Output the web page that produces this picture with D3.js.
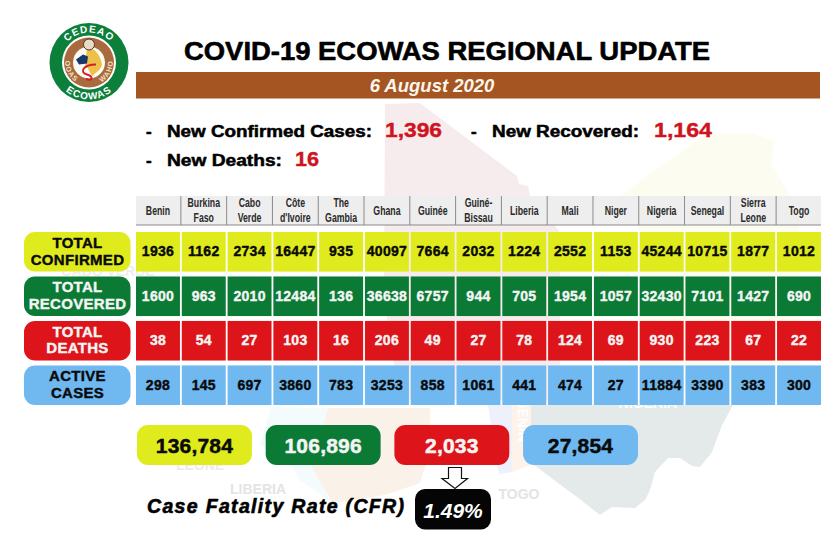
<!DOCTYPE html>
<html>
<head>
<meta charset="utf-8">
<script src="https://cdn.jsdelivr.net/npm/d3@7"></script>
<style>
	html, body { margin: 0; padding: 0; background: #fff; }
	svg { display: block; }
	text { font-family: "Liberation Sans", Arial, sans-serif; }
	.heavy { font-weight: bold; paint-order: stroke; stroke-linejoin: round; }
</style>
</head>
<body>
<svg id="chart" width="840" height="558"></svg>
<script>
( function() {

	"use strict";

	//table data
	var countries = [ "Benin", "Burkina\nFaso", "Cabo\nVerde", "Côte\nd'Ivoire", "The\nGambia", "Ghana", "Guinée", "Guiné-\nBissau", "Liberia", "Mali", "Niger", "Nigeria", "Senegal", "Sierra\nLeone", "Togo" ],
		confirmed = [ 1936, 1162, 2734, 16447, 935, 40097, 7664, 2032, 1224, 2552, 1153, 45244, 10715, 1877, 1012 ],
		recovered = [ 1600, 963, 2010, 12484, 136, 36638, 6757, 944, 705, 1954, 1057, 32430, 7101, 1427, 690 ],
		deaths = [ 38, 54, 27, 103, 16, 206, 49, 27, 78, 124, 69, 930, 223, 67, 22 ],
		active = [ 298, 145, 697, 3860, 783, 3253, 858, 1061, 441, 474, 27, 11884, 3390, 383, 300 ],
		rowLabels = [ "TOTAL\nCONFIRMED", "TOTAL\nRECOVERED", "TOTAL\nDEATHS", "ACTIVE\nCASES" ],
		totals = [ "136,784", "106,896", "2,033", "27,854" ],
		rowValues = [ confirmed, recovered, deaths, active ];

	var rowFills = [ "#dfeb1c", "#0a7a35", "#dd1419", "#6fb8f0" ],
		rowInk = [ "#0a0a0a", "#f4f4f4", "#f4f4f4", "#0a0a0a" ],
		red = "#cf1320";

	var svg = d3.select( "#chart" );

	var x = d3.scaleBand().domain( d3.range( countries.length ) ).range( [ 136, 821 ] ).paddingInner( 0.04 ),
		y = d3.scaleBand().domain( d3.range( rowLabels.length ) ).range( [ 232, 405 ] ).paddingInner( 0.11 ),
		xTotal = d3.scaleBand().domain( d3.range( totals.length ) ).range( [ 137, 638 ] ).paddingInner( 0.107 );

	//faint map behind the table
	var mapShapes = [
		{ fill: "#f7eced", d: "M385 104 L420 103 L517 176 L519 184 L528 186 L530 196 L560 232 L560 400 L400 400 L384 300 Z" },
		{ fill: "#fdfcf0", d: "M620 196 L707 133 L750 133 L775 141 L773 147 L772 165 L788 192 L800 232 L800 400 L640 400 L640 232 Z" },
		{ fill: "#e4eaea", d: "M531 405 L733 405 L722 425 L712 452 L700 467 L692 466 L680 458 L668 458 L655 472 L650 490 L645 500 L635 508 L612 507 L600 515 L581 500 L530 462 Z" },
		{ fill: "#faf1e8", d: "M328 408 L430 408 L431 448 L420 483 L385 495 L333 503 L311 467 Z" },
		{ fill: "#f3fbfd", d: "M271 407 L328 408 L311 467 L333 503 L300 480 L292 467 L260 445 Z" },
		{ fill: "#fdf3ea", d: "M512 405 L531 405 L531 465 L512 472 Z" },
		{ fill: "#eef0fb", d: "M488 405 L512 405 L512 472 L499 474 Z" }
	];
	svg.append( "g" ).selectAll( "path" ).data( mapShapes ).enter().append( "path" )
		.attr( "d", function( d ) { return d.d; } )
		.attr( "fill", function( d ) { return d.fill; } );

	var mapLabels = [
		{ t: "LIBERIA", x: 258, y: 494, fill: "#e4e4e4", r: 0 },
		{ t: "TOGO", x: 519, y: 499, fill: "#e4e4e4", r: 0 },
		{ t: "LEONE", x: 200, y: 470, fill: "#ececec", r: 0 },
		{ t: "CABO VERDE", x: 108, y: 276, fill: "#eeeeee", r: 0 },
		{ t: "NIGERIA", x: 648, y: 408, fill: "#ffffff", r: 0 },
		{ t: "BENIN", x: 518, y: 420, fill: "#ffffff", r: 90 }
	];
	svg.append( "g" ).selectAll( "text" ).data( mapLabels ).enter().append( "text" )
		.attr( "transform", function( d ) { return "translate(" + d.x + "," + d.y + ") rotate(" + d.r + ")"; } )
		.attr( "text-anchor", "middle" )
		.attr( "font-size", 14 )
		.attr( "font-weight", "bold" )
		.attr( "fill", function( d ) { return d.fill; } )
		.text( function( d ) { return d.t; } );

	//logo
	var logo = svg.append( "g" ).attr( "transform", "translate(89,62.5)" );
	logo.append( "circle" ).attr( "r", 39.5 ).attr( "fill", "#0c7f3a" );
	logo.append( "circle" ).attr( "r", 27 ).attr( "fill", "#fff" );
	logo.append( "circle" ).attr( "r", 25 ).attr( "fill", "#a96a3d" );
	logo.append( "circle" ).attr( "r", 16 ).attr( "fill", "#fbfbf3" );
	var defs = svg.append( "defs" );
	defs.append( "path" ).attr( "id", "arc-top" ).attr( "d", "M-30 0 A30 30 0 0 1 30 0" );
	defs.append( "path" ).attr( "id", "arc-bottom" ).attr( "d", "M-37 0 A37 37 0 0 0 37 0" );
	defs.append( "path" ).attr( "id", "arc-in-left" ).attr( "d", "M-23 -7 A24 24 0 0 0 -8 22" );
	defs.append( "path" ).attr( "id", "arc-in-right" ).attr( "d", "M8 22 A24 24 0 0 0 23 -7" );
	[
		[ "#arc-top", "CEDEAO", 10, "#fff" ],
		[ "#arc-bottom", "ECOWAS", 10, "#fff" ],
		[ "#arc-in-left", "OOAS", 7, "#f2e3c8" ],
		[ "#arc-in-right", "WAHO", 7, "#f2e3c8" ]
	].forEach( function( a ) {
		logo.append( "text" )
			.attr( "font-size", a[ 2 ] )
			.attr( "font-weight", "bold" )
			.attr( "fill", a[ 3 ] )
			.attr( "letter-spacing", 1 )
			.attr( "text-anchor", "middle" )
			.append( "textPath" )
				.attr( "href", a[ 0 ] )
				.attr( "startOffset", "50%" )
				.text( a[ 1 ] );
	} );
	logo.append( "path" ).attr( "d", "M-2 -14 C6 -16 12 -6 13 2 C12 8 6 10 3 14 L-1 6 L-4 2 Z" ).attr( "fill", "#eec04a" );
	logo.append( "path" ).attr( "d", "M-13 -3 L-6 -8 L-1 -6 L-2 1 L-10 2 Z" ).attr( "fill", "#17366b" );
	logo.append( "path" ).attr( "d", "M7 2 C-6 2 -10 10 -2 12 C6 14 2 20 -3 16" ).attr( "fill", "none" ).attr( "stroke", "#d0202a" ).attr( "stroke-width", 2 );
	logo.append( "circle" ).attr( "cy", -18 ).attr( "r", 5.5 ).attr( "fill", "#e8dcc8" ).attr( "stroke", "#4a3a2a" );

	//title and banner
	svg.append( "text" ).attr( "class", "heavy" )
		.attr( "x", 447 ).attr( "y", 59.5 )
		.attr( "text-anchor", "middle" )
		.attr( "font-size", 26 )
		.attr( "stroke", "#000" ).attr( "stroke-width", 0.6 )
		.attr( "textLength", 526 ).attr( "lengthAdjust", "spacingAndGlyphs" )
		.text( "COVID-19 ECOWAS REGIONAL UPDATE" );
	svg.append( "rect" ).attr( "x", 136 ).attr( "y", 72 ).attr( "width", 684 ).attr( "height", 26.5 ).attr( "fill", "#a45522" );
	svg.append( "text" )
		.attr( "x", 432 ).attr( "y", 92 )
		.attr( "text-anchor", "middle" )
		.attr( "font-size", 18.5 ).attr( "font-weight", "bold" ).attr( "font-style", "italic" )
		.attr( "fill", "#fbf5ee" )
		.text( "6 August 2020" );

	//new cases lines
	var newLines = [
		{ dash: 146, x: 167, base: 137, label: "New Confirmed Cases:", w: 205, valueX: 385, value: "1,396", vw: 57 },
		{ dash: 471, x: 492, base: 137, label: "New Recovered:", w: 147, valueX: 654, value: "1,164", vw: 58 },
		{ dash: 146, x: 167, base: 166, label: "New Deaths:", w: 115, valueX: 295, value: "16", vw: 24 }
	];
	var newG = svg.append( "g" ).selectAll( "g" ).data( newLines ).enter().append( "g" );
	newG.append( "text" ).attr( "class", "heavy" )
		.attr( "x", function( d ) { return d.dash; } )
		.attr( "y", function( d ) { return d.base; } )
		.attr( "font-size", 17 )
		.attr( "stroke", "#000" ).attr( "stroke-width", 0.6 )
		.text( "-" );
	newG.append( "text" ).attr( "class", "heavy" )
		.attr( "x", function( d ) { return d.x; } )
		.attr( "y", function( d ) { return d.base; } )
		.attr( "font-size", 16 )
		.attr( "stroke", "#000" ).attr( "stroke-width", 0.5 )
		.attr( "textLength", function( d ) { return d.w; } ).attr( "lengthAdjust", "spacingAndGlyphs" )
		.text( function( d ) { return d.label; } );
	newG.append( "text" ).attr( "class", "heavy" )
		.attr( "x", function( d ) { return d.valueX; } )
		.attr( "y", function( d ) { return d.base; } )
		.attr( "font-size", 20 )
		.attr( "fill", red ).attr( "stroke", red ).attr( "stroke-width", 0.4 )
		.attr( "textLength", function( d ) { return d.vw; } ).attr( "lengthAdjust", "spacingAndGlyphs" )
		.text( function( d ) { return d.value; } );

	//country header
	var header = svg.append( "g" );
	header.append( "rect" ).attr( "x", 136 ).attr( "y", 196 ).attr( "width", 685 ).attr( "height", 29 ).attr( "fill", "#eeeeee" );
	header.append( "line" ).attr( "x1", 136 ).attr( "x2", 821 ).attr( "y1", 225 ).attr( "y2", 225 ).attr( "stroke", "#8a8a8a" ).attr( "stroke-width", 1 );
	header.selectAll( "line.sep" ).data( d3.range( 1, countries.length ) ).enter().append( "line" )
		.attr( "class", "sep" )
		.attr( "x1", function( d ) { return x( d ) - x.step() * 0.02; } )
		.attr( "x2", function( d ) { return x( d ) - x.step() * 0.02; } )
		.attr( "y1", 196 ).attr( "y2", 225 )
		.attr( "stroke", "#8a8a8a" );
	//no narrow face here, so squeeze the bold one sideways
	header.selectAll( "g.country" ).data( countries ).enter().append( "g" )
		.attr( "class", "country" )
		.attr( "transform", function( d, i ) { return "translate(" + ( x( i ) + x.bandwidth() / 2 ) + ",0) scale(0.7,1)"; } )
		.each( function( d ) {
			var lines = d.split( "\n" );
			d3.select( this ).selectAll( "text" ).data( lines ).enter().append( "text" )
				.attr( "text-anchor", "middle" )
				.attr( "font-size", 12.5 )
				.attr( "font-weight", "bold" )
				.attr( "fill", "#2a2a2a" )
				.attr( "y", function( s, j ) { return lines.length > 1 ? 207.5 + j * 14.5 : 215; } )
				.text( function( s ) { return s; } );
		} );

	//rows
	var rows = svg.append( "g" ).selectAll( "g" ).data( rowValues ).enter().append( "g" )
		.attr( "transform", function( d, i ) { return "translate(0," + y( i ) + ")"; } );
	rows.each( function( values, r ) {
		var row = d3.select( this );
		row.append( "rect" )
			.attr( "x", 24 ).attr( "width", 106.5 )
			.attr( "height", y.bandwidth() ).attr( "rx", 11 )
			.attr( "fill", rowFills[ r ] );
		var lines = rowLabels[ r ].split( "\n" );
		row.selectAll( "text.label" ).data( lines ).enter().append( "text" )
			.attr( "class", "label heavy" )
			.attr( "x", 77.5 )
			.attr( "y", function( d, i ) { return 16 + i * 16.5; } )
			.attr( "text-anchor", "middle" )
			.attr( "font-size", 15 )
			.attr( "letter-spacing", 0.3 )
			.attr( "fill", rowInk[ r ] ).attr( "stroke", rowInk[ r ] ).attr( "stroke-width", 0.4 )
			.text( function( d ) { return d; } );
		row.selectAll( "rect.cell" ).data( values ).enter().append( "rect" )
			.attr( "class", "cell" )
			.attr( "x", function( d, i ) { return x( i ); } )
			.attr( "width", x.bandwidth() )
			.attr( "height", y.bandwidth() )
			.attr( "fill", rowFills[ r ] );
		row.selectAll( "text.value" ).data( values ).enter().append( "text" )
			.attr( "class", "value heavy" )
			.attr( "x", function( d, i ) { return x( i ) + x.bandwidth() / 2; } )
			.attr( "y", y.bandwidth() / 2 + 4.5 )
			.attr( "text-anchor", "middle" )
			.attr( "font-size", 14 )
			.attr( "letter-spacing", 0.3 )
			.attr( "fill", rowInk[ r ] ).attr( "stroke", rowInk[ r ] ).attr( "stroke-width", 0.4 )
			.text( function( d ) { return d; } );
	} );

	//totals
	var totalG = svg.append( "g" ).selectAll( "g" ).data( totals ).enter().append( "g" )
		.attr( "transform", function( d, i ) { return "translate(" + xTotal( i ) + ",425)"; } );
	totalG.append( "rect" )
		.attr( "width", xTotal.bandwidth() ).attr( "height", 40 ).attr( "rx", 11 )
		.attr( "fill", function( d, i ) { return rowFills[ i ]; } );
	totalG.append( "text" ).attr( "class", "heavy" )
		.attr( "x", xTotal.bandwidth() / 2 ).attr( "y", 27.5 )
		.attr( "text-anchor", "middle" )
		.attr( "font-size", 21 )
		.attr( "letter-spacing", 0.2 )
		.attr( "fill", function( d, i ) { return rowInk[ i ]; } )
		.attr( "stroke", function( d, i ) { return rowInk[ i ]; } ).attr( "stroke-width", 0.5 )
		.text( function( d ) { return d; } );

	//arrow to CFR
	svg.append( "path" )
		.attr( "d", "M448.5 467.5 H461.5 V478.5 H467.5 L455 488.5 L442 478.5 H448.5 Z" )
		.attr( "fill", "#fff" ).attr( "stroke", "#111" ).attr( "stroke-width", 1.2 );

	//CFR
	svg.append( "text" ).attr( "class", "heavy" )
		.attr( "x", 147 ).attr( "y", 513 )
		.attr( "font-size", 19.5 ).attr( "font-style", "italic" )
		.attr( "stroke", "#000" ).attr( "stroke-width", 0.6 )
		.attr( "textLength", 257 ).attr( "lengthAdjust", "spacing" )
		.text( "Case Fatality Rate (CFR)" );
	svg.append( "rect" ).attr( "x", 415 ).attr( "y", 489 ).attr( "width", 76 ).attr( "height", 40.5 ).attr( "rx", 10 ).attr( "fill", "#050505" );
	svg.append( "text" ).attr( "class", "heavy" )
		.attr( "x", 453 ).attr( "y", 518 )
		.attr( "text-anchor", "middle" )
		.attr( "font-size", 21 ).attr( "font-style", "italic" )
		.attr( "fill", "#fff" )
		.text( "1.49%" );

})();
</script>
</body>
</html>
